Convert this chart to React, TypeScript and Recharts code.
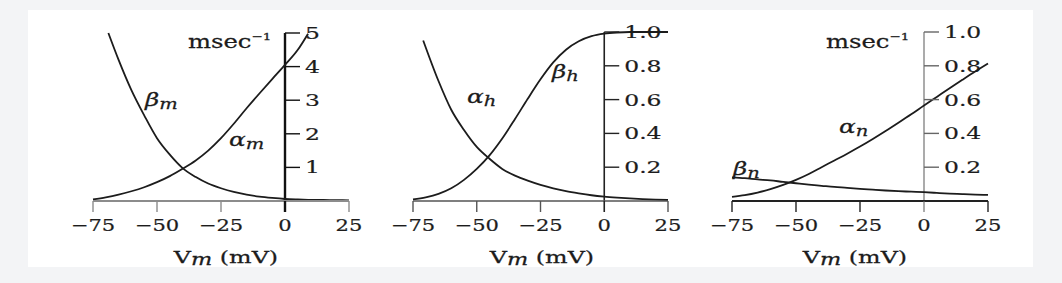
import React from "react"
import { LineChart, Line, XAxis, YAxis, ReferenceLine } from "recharts"

// membrane potential (mV)
const VOLTS = [-75, -70, -65, -60, -55, -50, -45, -40, -35, -30, -25, -20, -15, -10, -5, 0, 5, 10, 15, 20, 25]
const X_TICKS = [-75, -50, -25, 0, 25]

// panel 1: sodium activation rates (msec^-1)
const ALPHA_M_V = [-75, -70, -65, -60, -55, -50, -45, -40, -35, -30, -25, -20, -15, -10, -5, 0, 5, 9]
const ALPHA_M = [0.05, 0.11, 0.19, 0.29, 0.41, 0.56, 0.74, 0.96, 1.2, 1.5, 1.87, 2.3, 2.76, 3.2, 3.63, 4.05, 4.5, 4.98]
const BETA_M_V = [-69, -65, -60, -55, -50, -45, -40, -35, -30, -25, -20, -15, -10, -5, 0, 5, 10, 15, 20, 25]
const BETA_M = [5.0, 4.2, 3.3, 2.55, 1.87, 1.38, 0.98, 0.72, 0.52, 0.38, 0.27, 0.19, 0.13, 0.09, 0.06, 0.045, 0.035, 0.03, 0.025, 0.02]
const M_TICKS = [1, 2, 3, 4, 5]

// panel 2: sodium inactivation rates
const ALPHA_H_V = [-71, -65, -60, -55, -50, -45, -40, -35, -30, -25, -20, -15, -10, -5, 0, 5, 10, 15, 20, 25]
const ALPHA_H = [0.95, 0.71, 0.54, 0.42, 0.32, 0.25, 0.19, 0.15, 0.12, 0.095, 0.075, 0.058, 0.045, 0.034, 0.026, 0.02, 0.015, 0.011, 0.008, 0.006]
const BETA_H = [0.01, 0.022, 0.042, 0.075, 0.125, 0.19, 0.27, 0.37, 0.485, 0.605, 0.72, 0.82, 0.895, 0.945, 0.975, 0.99, 0.997, 1.0, 1.0, 1.0, 1.0]

// panel 3: potassium activation rates
const ALPHA_N = [0.025, 0.035, 0.05, 0.07, 0.095, 0.125, 0.16, 0.2, 0.24, 0.28, 0.322, 0.367, 0.414, 0.463, 0.513, 0.565, 0.616, 0.667, 0.717, 0.766, 0.813]
const BETA_N = [0.14, 0.135, 0.128, 0.122, 0.113, 0.105, 0.097, 0.09, 0.083, 0.078, 0.072, 0.067, 0.062, 0.058, 0.055, 0.052, 0.048, 0.044, 0.041, 0.038, 0.036]
const FRAC_TICKS = [0.2, 0.4, 0.6, 0.8, 1.0]

const W = 1062
const H = 283
const FONT = "DejaVu Serif"
const INK = "#1c1c1c"

const zip = (xs: number[], ys: number[]) => xs.map((v, i) => ({ v, r: ys[i] }))

function SText({ x, y, sx = 1.3, size = 17, anchor = "start", children }: any) {
  return (
    <text
      transform={`translate(${x} ${y}) scale(${sx} 1)`}
      fontFamily={FONT}
      fontSize={size}
      textAnchor={anchor}
      fill={INK}
      stroke={INK}
      strokeWidth={0.2}
    >
      {children}
    </text>
  )
}

const fmtX = (v: number) => (v < 0 ? `\u2212${-v}` : `${v}`)

interface PanelProps {
  left: number
  right: number
  top: number
  bottom: number
  yMax: number
  yTicks: number[]
  fmtY: (v: number) => string
  xAxisStroke: string
  xAxisWidth: number
  yAxisStroke: string
  yAxisWidth: number
  series: { v: number; r: number }[][]
}

function Panel(p: PanelProps) {
  const axisX = p.left + 0.75 * (p.right - p.left)

  const xTick = (props: any) => {
    const { x, payload } = props
    const zero = payload.value === 0
    return (
      <g>
        <line
          x1={x}
          x2={x}
          y1={p.bottom}
          y2={p.bottom + 11}
          stroke={zero ? p.yAxisStroke : p.xAxisStroke}
          strokeWidth={zero ? p.yAxisWidth : 1.4}
        />
        <SText x={x} y={231} anchor="middle" sx={1.24}>
          {fmtX(payload.value)}
        </SText>
      </g>
    )
  }

  const yTick = (props: any) => {
    const { y, payload } = props
    return (
      <g>
        <line x1={axisX} x2={axisX + 15} y1={y} y2={y} stroke={p.yAxisStroke} strokeWidth={1.4} />
        <SText x={axisX + 20} y={y + 6} sx={1.38}>
          {p.fmtY(payload.value)}
        </SText>
      </g>
    )
  }

  return (
    <div style={{ position: "absolute", left: 0, top: 0 }}>
      <LineChart
        width={W}
        height={H}
        margin={{ top: p.top, left: p.left - 1, right: W - p.right, bottom: 0 }}
      >
        <XAxis
          type="number"
          dataKey="v"
          domain={[-75, 25]}
          ticks={X_TICKS}
          interval={0}
          height={H - p.bottom}
          tickLine={false}
          axisLine={{ stroke: p.xAxisStroke, strokeWidth: p.xAxisWidth }}
          tick={xTick}
          allowDuplicatedCategory={false}
        />
        <YAxis
          type="number"
          domain={[0, p.yMax]}
          ticks={p.yTicks}
          interval={0}
          width={1}
          axisLine={false}
          tickLine={false}
          tick={yTick}
        />
        <ReferenceLine x={0} stroke={p.yAxisStroke} strokeWidth={p.yAxisWidth} />
        {p.series.map((d, i) => (
          <Line
            key={i}
            data={d}
            dataKey="r"
            type="monotone"
            stroke={INK}
            strokeWidth={1.8}
            dot={false}
            activeDot={false}
            isAnimationActive={false}
          />
        ))}
      </LineChart>
    </div>
  )
}

function Greek({ x, y, letter, sub }: { x: number; y: number; letter: string; sub: string }) {
  return (
    <text
      transform={`translate(${x} ${y}) scale(1.3 1)`}
      fontFamily={FONT}
      fill={INK}
      stroke={INK}
      strokeWidth={0.25}
    >
      <tspan fontSize={19} fontStyle="italic">{letter}</tspan>
      <tspan fontSize={15} fontStyle="italic" dy={3}>{sub}</tspan>
    </text>
  )
}

function Msec({ x, y }: { x: number; y: number }) {
  return (
    <text
      transform={`translate(${x} ${y}) scale(1.35 1)`}
      fontFamily={FONT}
      fill={INK}
      stroke={INK}
      strokeWidth={0.25}
      fontSize={18}
    >
      msec
      <tspan fontSize={10} dy={-8}>{"\u22121"}</tspan>
    </text>
  )
}

function VmLabel({ cx }: { cx: number }) {
  return (
    <text
      transform={`translate(${cx} 263) scale(1.4 1)`}
      fontFamily={FONT}
      fill={INK}
      stroke={INK}
      strokeWidth={0.25}
      fontSize={17}
      textAnchor="middle"
    >
      V<tspan fontStyle="italic" fontSize={16} dy={2}>m</tspan>
      <tspan dy={-2}> (mV)</tspan>
    </text>
  )
}

export default function App() {
  return (
    <div
      style={{
        position: "absolute",
        left: 0,
        top: 0,
        width: W,
        height: H,
        background: "#f3f4f6",
        overflow: "hidden",
      }}
    >
      <div style={{ position: "absolute", left: 28, top: 10, width: 1005, height: 257, background: "#ffffff" }} />
      <Panel
        left={93}
        right={349}
        top={33}
        bottom={201}
        yMax={5}
        yTicks={M_TICKS}
        fmtY={(v) => `${v}`}
        xAxisStroke="#8c8c8c"
        xAxisWidth={2}
        yAxisStroke="#111111"
        yAxisWidth={2.4}
        series={[zip(ALPHA_M_V, ALPHA_M), zip(BETA_M_V, BETA_M)]}
      />
      <Panel
        left={413}
        right={668}
        top={32}
        bottom={201}
        yMax={1}
        yTicks={FRAC_TICKS}
        fmtY={(v) => v.toFixed(1)}
        xAxisStroke="#555555"
        xAxisWidth={1.6}
        yAxisStroke="#222222"
        yAxisWidth={1.6}
        series={[zip(ALPHA_H_V, ALPHA_H), zip(VOLTS, BETA_H)]}
      />
      <Panel
        left={732}
        right={988}
        top={32}
        bottom={201}
        yMax={1}
        yTicks={FRAC_TICKS}
        fmtY={(v) => v.toFixed(1)}
        xAxisStroke="#222222"
        xAxisWidth={2}
        yAxisStroke="#666666"
        yAxisWidth={1.1}
        series={[zip(VOLTS, ALPHA_N), zip(VOLTS, BETA_N)]}
      />
      <svg width={W} height={H} style={{ position: "absolute", left: 0, top: 0, pointerEvents: "none" }}>
        <Msec x={188} y={48} />
        <Greek x={145} y={106} letter={"\u03B2"} sub="m" />
        <Greek x={229} y={146} letter={"\u03B1"} sub="m" />
        <Greek x={467} y={103} letter={"\u03B1"} sub="h" />
        <Greek x={552} y={78} letter={"\u03B2"} sub="h" />
        <Msec x={826} y={48} />
        <Greek x={839} y={133} letter={"\u03B1"} sub="n" />
        <Greek x={733} y={175} letter={"\u03B2"} sub="n" />
        <VmLabel cx={226} />
        <VmLabel cx={542} />
        <VmLabel cx={855} />
      </svg>
    </div>
  )
}
